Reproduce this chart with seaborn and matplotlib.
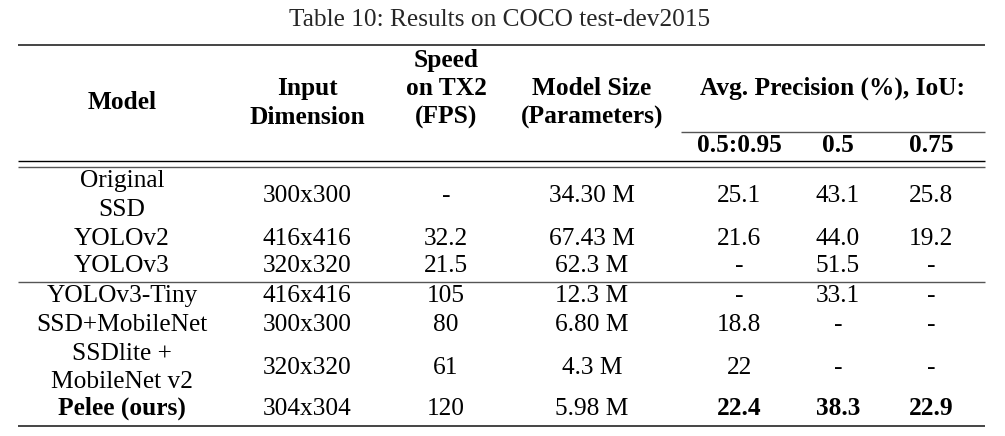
import matplotlib.pyplot as plt
import seaborn as sns

# Table data
title = "Table 10: Results on COCO test-dev2015"
header_cols = ["Model", "Input\nDimension", "Speed\non TX2\n(FPS)", "Model Size\n(Parameters)"]
ap_header = "Avg. Precision (%), IoU:"
ap_thresholds = ["0.5:0.95", "0.5", "0.75"]

models = ["Original\nSSD", "YOLOv2", "YOLOv3", "YOLOv3-Tiny", "SSD+MobileNet",
          "SSDlite +\nMobileNet v2", "Pelee (ours)"]
input_dims = ["300x300", "416x416", "320x320", "416x416", "300x300", "320x320", "304x304"]
speeds = ["-", "32.2", "21.5", "105", "80", "61", "120"]
sizes = ["34.30 M", "67.43 M", "62.3 M", "12.3 M", "6.80 M", "4.3 M", "5.98 M"]
ap_50_95 = ["25.1", "21.6", "-", "-", "18.8", "22", "22.4"]
ap_50 = ["43.1", "44.0", "51.5", "33.1", "-", "-", "38.3"]
ap_75 = ["25.8", "19.2", "-", "-", "-", "-", "22.9"]
bold_rows = [False, False, False, False, False, False, True]

sns.set_style("white")
plt.rcParams['font.family'] = ['Liberation Serif', 'DejaVu Serif']

fig = plt.figure(figsize=(10.05, 4.36), dpi=100)
ax = fig.add_axes([0, 0, 1, 1])
ax.set_xlim(0, 1005)
ax.set_ylim(436, 0)
ax.axis('off')

fs = 18.3
pitch = 28.5
col_x = [122, 307, 446, 592, 739, 838, 931]
# baselines of each body row (centre of the block for multi-line cells)
row_base = [201.5, 244.5, 272, 301.5, 330.5, 374, 415]


def put(x, yb, s, bold=False):
    # draw (possibly multi-line) text, baselines spread around yb
    lines = s.split("\n")
    y0 = yb - pitch * (len(lines) - 1) / 2
    for i, ln in enumerate(lines):
        ax.text(x, y0 + i * pitch, ln, ha='center', va='baseline', fontsize=fs,
                fontweight='bold' if bold else 'normal', color='black')


ax.text(500, 26, title, ha='center', va='baseline', fontsize=fs)

# rules
ax.hlines(45, 18, 985, color='#444444', lw=1.4)
ax.hlines(132, 681, 985, color='#555555', lw=1.0)
ax.hlines(161, 18, 985, color='black', lw=1.0)
ax.hlines(167, 18, 985, color='#555555', lw=1.0)
ax.hlines(282, 18, 985, color='#555555', lw=1.0)
ax.hlines(426, 18, 985, color='#444444', lw=1.4)

# header
put(col_x[0], 108.5, header_cols[0], bold=True)
put(col_x[1], 109.5, header_cols[1], bold=True)
put(col_x[2], 95, header_cols[2], bold=True)
put(col_x[3], 109.5, header_cols[3], bold=True)
put(832, 95, ap_header, bold=True)
for x, t in zip(col_x[4:], ap_thresholds):
    put(x, 151.5, t, bold=True)

# body
for i, y in enumerate(row_base):
    b = bold_rows[i]
    put(col_x[0], y, models[i], bold=b)
    put(col_x[1], y, input_dims[i])
    put(col_x[2], y, speeds[i])
    put(col_x[3], y, sizes[i])
    put(col_x[4], y, ap_50_95[i], bold=b)
    put(col_x[5], y, ap_50[i], bold=b)
    put(col_x[6], y, ap_75[i], bold=b)

fig.savefig("out.png", dpi=100)
